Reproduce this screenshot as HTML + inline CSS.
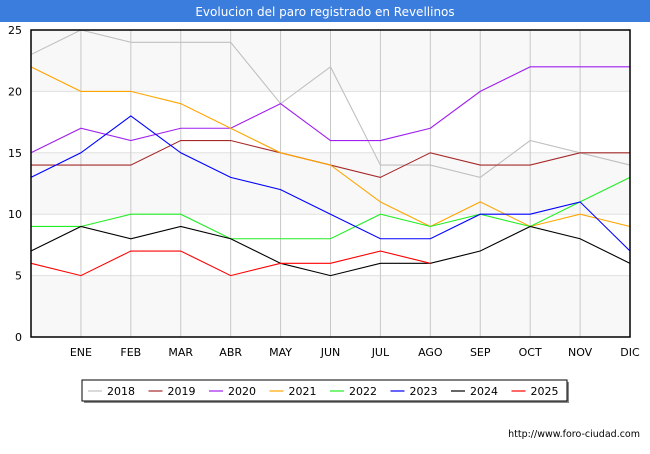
<!DOCTYPE html>
<html><head><meta charset="utf-8"><style>
body{margin:0;background:#fff;font-family:"DejaVu Sans","Liberation Sans",sans-serif;}
#wrap{position:relative;width:650px;height:450px;}
</style></head><body>
<div id="wrap">
<svg id="chart" width="650" height="450" xmlns="http://www.w3.org/2000/svg" font-family="DejaVu Sans, Liberation Sans, sans-serif">
<rect x="0" y="0" width="650" height="22" fill="#3b7ddd"/>
<text x="325" y="16" text-anchor="middle" font-size="12" fill="#fff">Evolucion del paro registrado en Revellinos</text>
<g id="grid"></g><g id="series"></g><g id="axes"></g>
<rect x="84" y="382" width="485" height="21" fill="#888"/>
<rect x="82" y="380" width="485" height="21" fill="#fff" stroke="#000"/>
<g id="legend"></g>
<text x="640" y="437" text-anchor="end" font-size="9.5" fill="#000">http://www.foro-ciudad.com</text>
</svg>
</div>
<script>
const months=["","ENE","FEB","MAR","ABR","MAY","JUN","JUL","AGO","SEP","OCT","NOV","DIC"];
const yTicks=[0,5,10,15,20,25];
const years=["2018","2019","2020","2021","2022","2023","2024","2025"];
const colors=["#c0c0c0","#a52a2a","#a020f0","#ffa500","#22ee22","#0000ff","#000000","#ff0000"];
const s2018=[23,25,24,24,24,19,22,14,14,13,16,15,14];
const s2019=[14,14,14,16,16,15,14,13,15,14,14,15,15];
const s2020=[15,17,16,17,17,19,16,16,17,20,22,22,22];
const s2021=[22,20,20,19,17,15,14,11,9,11,9,10,9];
const s2022=[9,9,10,10,8,8,8,10,9,10,9,11,13];
const s2023=[13,15,18,15,13,12,10,8,8,10,10,11,7];
const s2024=[7,9,8,9,8,6,5,6,6,7,9,8,6];
const s2025=[6,5,7,7,5,6,6,7,6];
const allSeries=[s2018,s2019,s2020,s2021,s2022,s2023,s2024,s2025];
const X0=31,X1=630,Y0=337,Y1=30,YMAX=25;
const xs=i=>X0+i*(X1-X0)/(months.length-1);
const ys=v=>Y0-v*(Y0-Y1)/YMAX;
const NS="http://www.w3.org/2000/svg";
function mk(t,a,p){const e=document.createElementNS(NS,t);for(const k in a)e.setAttribute(k,a[k]);p.appendChild(e);return e;}
const grid=document.getElementById('grid'),axes=document.getElementById('axes'),ser=document.getElementById('series'),leg=document.getElementById('legend');
for(let i=0;i<yTicks.length-1;i++){
 const r=mk('rect',{x:X0,y:ys(yTicks[i+1]),width:X1-X0,height:ys(yTicks[i])-ys(yTicks[i+1]),fill:i%2==0?'#f8f8f8':'#ffffff'},grid);
 
 
}
yTicks.forEach(v=>{
 const l=mk('line',{x1:X0,x2:X1,y1:ys(v),y2:ys(v),stroke:'#e0e0e0'},grid);
 
 
 const t=mk('text',{x:X0-9,y:ys(v)+4,'text-anchor':'end','font-size':11,fill:'#000'},axes);
 t.textContent=v;
 
 
});
months.forEach((m,i)=>{
 if(i>0&&i<months.length-1){const l=mk('line',{x1:xs(i),x2:xs(i),y1:Y1,y2:Y0,stroke:'#c8c8c8'},grid);
 
 }
 if(m){const t=mk('text',{x:xs(i),y:356,'text-anchor':'middle','font-size':11,fill:'#000'},axes);
 t.textContent=m;
 
 }
});
const fr=mk('rect',{x:X0,y:Y1,width:X1-X0,height:Y0-Y1,fill:'none',stroke:'#000','stroke-width':1.5},axes);


allSeries.forEach((s,k)=>{
 const p=mk('polyline',{points:s.map((v,i)=>xs(i)+','+ys(v)).join(' '),fill:'none',stroke:colors[k],'stroke-width':1.1},ser);
 
 
});
years.forEach((y,k)=>{
 const x=88+k*60.5;
 const l=mk('line',{x1:x,x2:x+14,y1:391,y2:391,stroke:colors[k],'stroke-width':1.2},leg);
 
 
 const t=mk('text',{x:x+19,y:395,'font-size':11,fill:'#000'},leg);
 t.textContent=y;
 
 
});
</script>
</body></html>
